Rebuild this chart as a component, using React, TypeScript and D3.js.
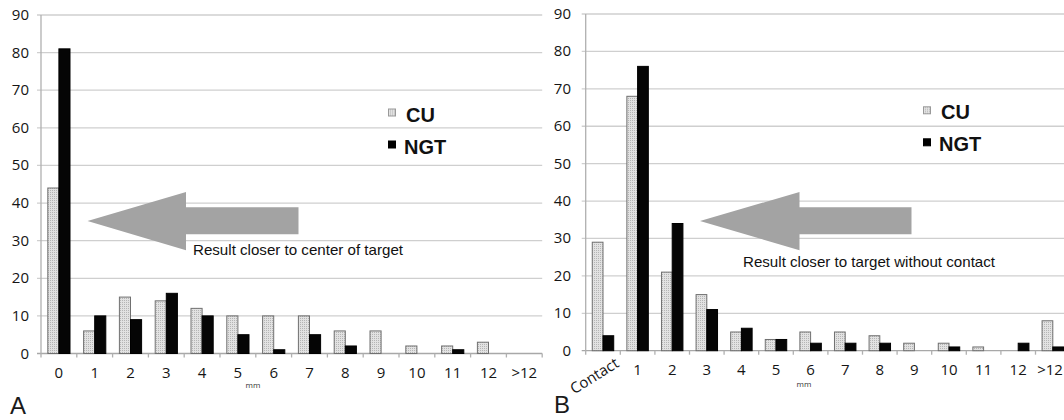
import React from 'react';
import * as d3 from 'd3';

// panel A: distance from center of target
const catsA = ['0', '1', '2', '3', '4', '5', '6', '7', '8', '9', '10', '11', '12', '>12'];
const cuA = [44, 6, 15, 14, 12, 10, 10, 10, 6, 6, 2, 2, 3, 0];
const ngtA = [81, 10, 9, 16, 10, 5, 1, 5, 2, 0, 0, 1, 0, 0];

// panel B: distance to target without contact
const catsB = ['Contact', '1', '2', '3', '4', '5', '6', '7', '8', '9', '10', '11', '12', '>12'];
const cuB = [29, 68, 21, 15, 5, 3, 5, 5, 4, 2, 2, 1, 0, 8];
const ngtB = [4, 76, 34, 11, 6, 3, 2, 2, 2, 0, 1, 0, 2, 1];

const yTicks = [0, 10, 20, 30, 40, 50, 60, 70, 80, 90];
const seriesNames = ['CU', 'NGT'];

const tickFont = '"Open Sans", sans-serif';

type PanelProps = {
  cats: string[];
  cu: number[];
  ngt: number[];
  x0: number;
  band: number;
  yTop: number;
  yBottom: number;
  labelRight: number;
  labelBaseline: number;
  legendX: number;
  legendY: number;
  arrow: { tip: number; base: number; end: number; y: number };
  note: string;
  noteX: number;
  noteY: number;
  noteW: number;
  mmX: number;
  mmY: number;
  letter: string;
  letterX: number;
  letterY: number;
  rotateFirst?: boolean;
};

const Panel = (p: PanelProps) => {
  const x = d3.scaleBand<string>()
    .domain(p.cats)
    .range([p.x0, p.x0 + p.band * p.cats.length])
    .padding(0);
  const y = d3.scaleLinear().domain([0, 90]).range([p.yBottom, p.yTop]);
  const bw = x.bandwidth() * 0.31;
  const off = (x.bandwidth() - 2 * bw) / 2;
  const xEnd = p.x0 + p.band * p.cats.length;
  const a = p.arrow;
  const arrowPath = [
    [a.tip, a.y],
    [a.base, a.y - 29],
    [a.base, a.y - 13.7],
    [a.end, a.y - 13.7],
    [a.end, a.y + 13.3],
    [a.base, a.y + 13.3],
    [a.base, a.y + 29.3],
  ];

  return (
    <g>
      {yTicks.map(t => (
        <g key={t}>
          <line x1={p.x0 - 4} x2={Math.min(xEnd, 1064)} y1={y(t)} y2={y(t)}
            stroke={t === 0 ? '#a8a8a8' : '#cfcfcf'} strokeWidth={1.3} />
          <text x={p.labelRight} y={y(t) + 5} textAnchor="end" fontFamily={tickFont}
            fontSize={15} fill="#151515">{t}</text>
        </g>
      ))}
      <line x1={p.x0} x2={p.x0} y1={y(90)} y2={y(0) + 4} stroke="#b0b0b0" strokeWidth={1.3} />
      {p.cats.map(c => (
        <line key={'t' + c} x1={(x(c) as number) + p.band} x2={(x(c) as number) + p.band}
          y1={y(0)} y2={y(0) + 4} stroke="#b0b0b0" strokeWidth={1.3} />
      ))}
      <path d={d3.line()(arrowPath as [number, number][]) + 'Z'} fill="#a3a3a3" />
      <text x={p.noteX} y={p.noteY} fontFamily='"Liberation Sans", Arial, sans-serif' fontSize={14.5}
        fill="#111" textLength={p.noteW} lengthAdjust="spacingAndGlyphs">{p.note}</text>
      {p.cats.map((c, i) => (
        <g key={'b' + c}>
          <rect x={(x(c) as number) + off} y={y(p.cu[i])} width={bw} height={y(0) - y(p.cu[i])}
            fill="url(#dots)" stroke="#707070" strokeWidth={1} />
          <rect x={(x(c) as number) + off + bw} y={y(p.ngt[i])} width={bw} height={y(0) - y(p.ngt[i])}
            fill="#050505" stroke="#000" strokeWidth={1} />
        </g>
      ))}
      {p.cats.map((c, i) => {
        const cx = Math.min((x(c) as number) + p.band / 2, 1050);
        if (p.rotateFirst && i === 0) {
          return (
            <text key={'l' + c} transform={`translate(${cx + 17},${p.labelBaseline - 9}) rotate(-32)`}
              textAnchor="end" fontFamily={tickFont} fontSize={15} fill="#151515">{c}</text>
          );
        }
        return (
          <text key={'l' + c} x={cx} y={p.labelBaseline} textAnchor="middle" fontFamily={tickFont}
            fontSize={15} fill="#151515">{c}</text>
        );
      })}
      <text x={p.mmX} y={p.mmY} textAnchor="middle" fontFamily={tickFont} fontSize={8} fill="#333">mm</text>
      <text x={p.letterX} y={p.letterY} fontFamily='"Liberation Sans", Arial, sans-serif' fontSize={24}
        fill="#1a1a1a">{p.letter}</text>
      {seriesNames.map((s, i) => (
        <g key={s} transform={`translate(${p.legendX},${p.legendY + i * 32})`}>
          <rect x={0.5} y={-12.5} width={7} height={7} fill={i === 0 ? 'url(#dots)' : '#000'}
            stroke={i === 0 ? '#999' : '#000'} strokeWidth={1} />
          <text x={i === 0 ? 18 : 16} y={0} fontFamily='"Liberation Sans", Arial, sans-serif'
            fontWeight="bold" fontSize={20} fill="#111">{s}</text>
        </g>
      ))}
    </g>
  );
};

export default function App() {
  return (
    <svg width={1064} height={420} style={{ position: 'absolute', left: 0, top: 0, background: '#fff' }}>
      <defs>
        <pattern id="dots" width={2} height={2} patternUnits="userSpaceOnUse">
          <rect width={2} height={2} fill="#e2e2e2" />
          <rect width={1} height={1} fill="#b5b5b5" />
        </pattern>
      </defs>
      <rect width={1064} height={420} fill="#fff" />
      <Panel cats={catsA} cu={cuA} ngt={ngtA} x0={41} band={35.8} yTop={15} yBottom={353.5}
        labelRight={29} labelBaseline={378} legendX={388} legendY={121.5}
        arrow={{ tip: 87.5, base: 186, end: 298.5, y: 221 }}
        note="Result closer to center of target" noteX={193} noteY={255} noteW={210}
        mmX={253} mmY={388} letter="A" letterX={10} letterY={414} />
      <Panel cats={catsB} cu={cuB} ngt={ngtB} x0={585.7} band={34.6} yTop={14} yBottom={350.7}
        labelRight={571} labelBaseline={375} legendX={923} legendY={119.3}
        arrow={{ tip: 700, base: 799.5, end: 911.5, y: 221 }}
        note="Result closer to target without contact" noteX={743} noteY={267} noteW={252}
        mmX={804} mmY={387} letter="B" letterX={554} letterY={413} rotateFirst />
    </svg>
  );
}
